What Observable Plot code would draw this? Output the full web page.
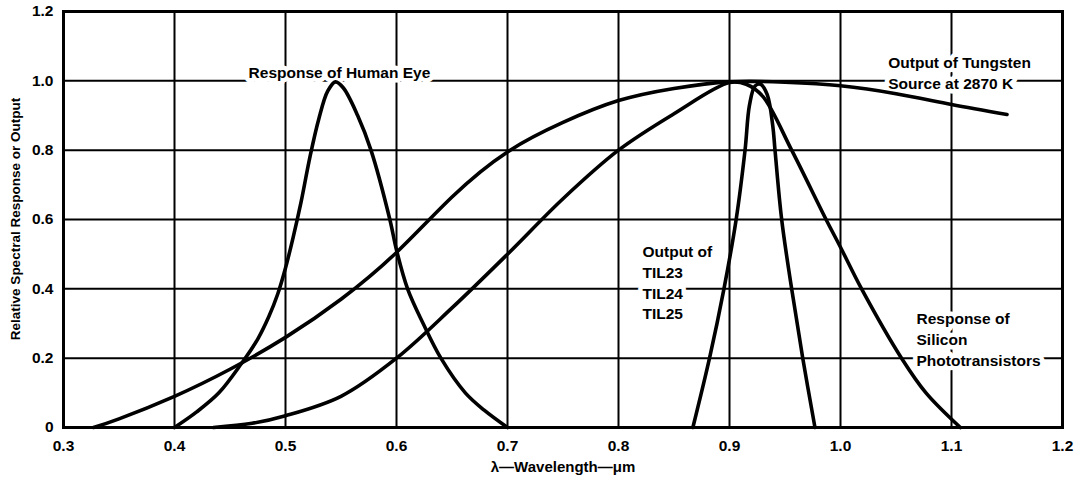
<!DOCTYPE html>
<html><head><meta charset="utf-8">
<script src="https://cdn.jsdelivr.net/npm/d3@7"></script>
<script src="https://cdn.jsdelivr.net/npm/@observablehq/plot@0.6"></script>
<style>html,body{margin:0;padding:0;background:#fff} svg{display:block}</style>
</head><body><div id="chart"></div>
<script>
const xTicks = [0.3, 0.4, 0.5, 0.6, 0.7, 0.8, 0.9, 1.0, 1.1, 1.2];
const yTicks = [0, 0.2, 0.4, 0.6, 0.8, 1.0, 1.2];

const eyeX = [0.40, 0.42, 0.44, 0.46, 0.475, 0.485, 0.493, 0.50, 0.507, 0.514, 0.522, 0.53, 0.538, 0.545, 0.552, 0.565, 0.577, 0.594, 0.60, 0.61, 0.624, 0.64, 0.662, 0.679, 0.70];
const eyeY = [0, 0.045, 0.10, 0.183, 0.255, 0.32, 0.385, 0.46, 0.55, 0.65, 0.78, 0.89, 0.97, 0.997, 0.98, 0.90, 0.80, 0.60, 0.512, 0.40, 0.30, 0.20, 0.10, 0.05, 0];

const tungX = [0.327, 0.35, 0.40, 0.45, 0.50, 0.55, 0.60, 0.65, 0.70, 0.75, 0.80, 0.85, 0.90, 0.95, 1.0, 1.05, 1.10, 1.15];
const tungY = [0, 0.025, 0.09, 0.168, 0.26, 0.37, 0.505, 0.665, 0.795, 0.88, 0.943, 0.978, 0.997, 0.996, 0.986, 0.963, 0.932, 0.903];

const siX = [0.435, 0.47, 0.50, 0.55, 0.60, 0.65, 0.70, 0.75, 0.80, 0.85, 0.90, 0.915, 0.93, 0.956, 0.987, 1.0, 1.019, 1.055, 1.077, 1.108];
const siY = [0, 0.012, 0.034, 0.09, 0.20, 0.345, 0.50, 0.66, 0.80, 0.905, 0.995, 0.99, 0.955, 0.80, 0.60, 0.52, 0.40, 0.20, 0.10, 0];

const tilX = [0.867, 0.882, 0.895, 0.906, 0.914, 0.918, 0.923, 0.928, 0.934, 0.939, 0.941, 0.947, 0.956, 0.966, 0.977];
const tilY = [0, 0.20, 0.40, 0.60, 0.80, 0.93, 0.985, 0.99, 0.96, 0.87, 0.80, 0.60, 0.40, 0.20, 0];

const labelText = ["Response of Human Eye", "Output of Tungsten\nSource at 2870 K", "Output of\nTIL23\nTIL24\nTIL25", "Response of\nSilicon\nPhototransistors"];
const labelX = [0.5486, 1.043, 0.8216, 1.0685];
const labelY = [1.027, 1.027, 0.421, 0.257];
const labelAnchor = ["middle", "start", "start", "start"];

const xTitle = "λ—Wavelength—μm";
const yTitle = "Relative Spectral Response or Output";

const toRows = (xs, ys) => xs.map((x, i) => ({x, y: ys[i]}));
const labels = labelText.map((t, i) => ({t, x: labelX[i], y: labelY[i], a: labelAnchor[i]}));
const fmt = d => d === 0 ? "0" : d.toFixed(1);
const lineOpts = {x: "x", y: "y", stroke: "black", strokeWidth: 3.6};

const plot = Plot.plot({
  width: 1079, height: 481,
  marginLeft: 63, marginRight: 17, marginTop: 11, marginBottom: 54,
  style: {fontFamily: "'Liberation Sans', Arial, sans-serif", fontWeight: "bold", fontSize: "15px", background: "white", color: "black"},
  x: {domain: [0.3, 1.2]},
  y: {domain: [0, 1.2]},
  marks: [
    Plot.ruleX(xTicks, {stroke: "black", strokeWidth: 2}),
    Plot.ruleY(yTicks, {stroke: "black", strokeWidth: 2}),
    Plot.text(labels.filter(d => d.a === "middle"), {x: "x", y: "y", text: "t", textAnchor: "middle", fontSize: 15.5, lineHeight: 1.34, stroke: "white", strokeWidth: 9, fill: "black"}),
    Plot.text(labels.filter(d => d.a === "start"), {x: "x", y: "y", text: "t", textAnchor: "start", fontSize: 15.5, lineHeight: 1.34, stroke: "white", strokeWidth: 9, fill: "black"}),
    Plot.line(toRows(eyeX, eyeY), {...lineOpts, curve: "catmull-rom"}),
    Plot.line(toRows(tungX, tungY), {...lineOpts, curve: "natural"}),
    Plot.line(toRows(siX, siY), {...lineOpts, curve: "catmull-rom"}),
    Plot.line(toRows(tilX, tilY), {...lineOpts, curve: "catmull-rom"}),
    Plot.frame({stroke: "black", strokeWidth: 3}),
    Plot.axisX(xTicks, {tickSize: 0, tickPadding: 12, tickFormat: fmt, label: null, fontSize: 15.5}),
    Plot.axisY(yTicks, {tickSize: 0, tickPadding: 10, tickFormat: fmt, label: null, fontSize: 15.5}),
    Plot.text([xTitle], {frameAnchor: "bottom", dy: 40, lineAnchor: "middle", textAnchor: "middle", fontSize: 15})
  ]
});
d3.select(plot).append("text")
  .attr("transform", "translate(15,219) rotate(-90)")
  .attr("text-anchor", "middle")
  .attr("dy", "0.35em")
  .attr("font-size", 13.5)
  .attr("font-weight", "bold")
  .attr("fill", "black")
  .text(yTitle);
document.getElementById("chart").appendChild(plot);
</script>
</body></html>
